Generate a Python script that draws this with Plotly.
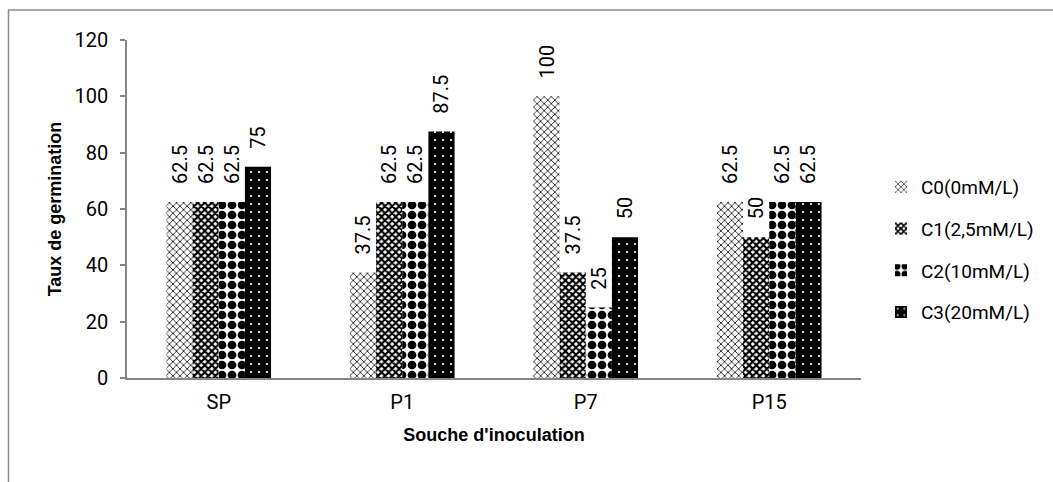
import plotly.graph_objects as go

# Germination rate per inoculation strain, for each concentration
categories = ["SP", "P1", "P7", "P15"]
series_names = ["C0(0mM/L)", "C1(2,5mM/L)", "C2(10mM/L)", "C3(20mM/L)"]
c0_values = [62.5, 37.5, 100, 62.5]
c1_values = [62.5, 62.5, 37.5, 50]
c2_values = [62.5, 62.5, 25, 62.5]
c3_values = [75, 87.5, 50, 62.5]
y_ticks = [0, 20, 40, 60, 80, 100, 120]

W, H = 1053, 482
L, R, T, B = 127, 861, 40, 378   # plot area in pixels

TEXT_FONT = "Roboto, Liberation Sans, Arial, sans-serif"
TITLE_FONT = "Liberation Sans, Arial, sans-serif"

# black-and-white hatch styles per series
patterns = [
    dict(shape="x", size=5, solidity=0.28, fgcolor="black", bgcolor="white",
         fgopacity=1, fillmode="replace"),
    dict(shape="x", size=5, solidity=0.65, fgcolor="black", bgcolor="white",
         fgopacity=1, fillmode="replace"),
    dict(shape=".", size=10, solidity=0.6, fgcolor="black", bgcolor="white",
         fgopacity=1, fillmode="replace"),
    dict(shape=".", size=8, solidity=0.06, fgcolor="white", bgcolor="black",
         fgopacity=1, fillmode="replace"),
]

# non-breaking spaces keep the rotated value labels clear of the bar tops
LABEL_GAP = "\u00a0\u00a0\u00a0"

fig = go.Figure()
for i, (name, vals) in enumerate(zip(series_names, [c0_values, c1_values, c2_values, c3_values])):
    fig.add_trace(go.Bar(
        x=categories, y=vals, name=name, legendgroup=name,
        marker=dict(color="white", line=dict(width=0), pattern=patterns[i]),
        text=vals, texttemplate=LABEL_GAP + "%{y}", textposition="outside", textangle=-90,
        textfont=dict(family=TEXT_FONT, size=20, color="black"),
        constraintext="none", cliponaxis=False,
    ))

def px_x(px):
    return (px - L) / (R - L)

def px_y(py):
    return (B - py) / (B - T)

fig.update_layout(
    width=W, height=H,
    margin=dict(l=L, r=W - R, t=T, b=H - B, pad=0),
    paper_bgcolor="white", plot_bgcolor="white",
    barmode="group", bargap=0.43, bargroupgap=0,
    font=dict(family=TEXT_FONT, size=20, color="black"),
    xaxis=dict(
        showgrid=False, showline=True, linecolor="#868686", linewidth=1.5,
        ticks="", tickfont=dict(family=TEXT_FONT, size=20), ticklabelstandoff=5,
        title=dict(text="<b>Souche d'inoculation</b>", font=dict(family=TITLE_FONT, size=18), standoff=16),
    ),
    yaxis=dict(
        range=[0, 120], tickvals=y_ticks, showgrid=False, zeroline=False,
        showline=True, linecolor="#868686", linewidth=1.5,
        ticks="outside", ticklen=5, tickcolor="#868686", tickwidth=1.5,
        tickfont=dict(family=TEXT_FONT, size=20), ticklabelstandoff=8,
        title=dict(text="<b>Taux de germination</b>", font=dict(family=TITLE_FONT, size=18), standoff=8),
    ),
    legend=dict(
        x=px_x(881), y=px_y(168), xanchor="left", yanchor="top",
        font=dict(family=TEXT_FONT, size=19), traceorder="grouped",
        tracegroupgap=14, itemwidth=30, bgcolor="rgba(0,0,0,0)",
    ),
    shapes=[
        dict(type="line", xref="paper", yref="paper",
             x0=px_x(8), x1=px_x(1053), y0=px_y(10), y1=px_y(10),
             line=dict(color="#8c8c8c", width=1.5)),
        dict(type="line", xref="paper", yref="paper",
             x0=px_x(8.5), x1=px_x(8.5), y0=px_y(10), y1=px_y(482),
             line=dict(color="#8c8c8c", width=1.5)),
    ],
)

fig.write_html("out.html")
